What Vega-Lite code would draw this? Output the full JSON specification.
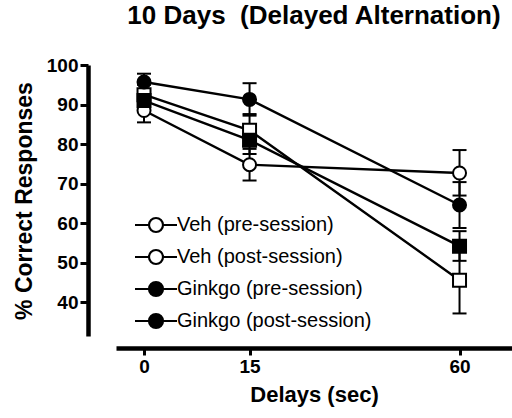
{
  "$schema": "https://vega.github.io/schema/vega-lite/v6.json",
  "width": 396,
  "height": 271,
  "autosize": {"type": "none"},
  "padding": {"left": 116, "top": 65, "right": 0, "bottom": 82},
  "background": "white",
  "title": {"text": "10 Days\u00a0 (Delayed Alternation)", "font": "Liberation Sans", "fontSize": 26, "fontWeight": "bold", "color": "black", "anchor": "middle", "offset": 27},
  "config": {
    "view": {"stroke": null},
    "font": "Liberation Sans",
    "axis": {"grid": false, "domainColor": "black", "tickColor": "black", "labelColor": "black", "titleColor": "black", "labelFont": "Liberation Sans", "titleFont": "Liberation Sans", "labelFontWeight": "bold", "titleFontWeight": "bold"},
    "axisX": {"offset": 12, "domainWidth": 4.5, "tickWidth": 3, "tickSize": 7, "labelFontSize": 19, "labelPadding": 2, "titleFontSize": 22, "titlePadding": 8, "labelFlush": false},
    "axisY": {"offset": 28, "domainWidth": 4.5, "tickWidth": 3, "tickSize": 8, "labelFontSize": 19, "labelPadding": 2, "titleFontSize": 23, "titlePadding": 10}
  },
  "data": {"values": [
    {"group": "Veh (pre-session)", "delay": 0, "mean": 88.5, "lo": 85.5, "hi": 91.5},
    {"group": "Veh (pre-session)", "delay": 15, "mean": 74.8, "lo": 70.8, "hi": 78.8},
    {"group": "Veh (pre-session)", "delay": 60, "mean": 72.7, "lo": 67.0, "hi": 78.5},
    {"group": "Veh (post-session)", "delay": 0, "mean": 92.5, "lo": 90.0, "hi": 95.0},
    {"group": "Veh (post-session)", "delay": 15, "mean": 83.5, "lo": 79.5, "hi": 87.6},
    {"group": "Veh (post-session)", "delay": 60, "mean": 45.6, "lo": 37.2, "hi": 54.0},
    {"group": "Ginkgo (pre-session)", "delay": 0, "mean": 95.7, "lo": 93.3, "hi": 97.8},
    {"group": "Ginkgo (pre-session)", "delay": 15, "mean": 91.3, "lo": 87.2, "hi": 95.4},
    {"group": "Ginkgo (pre-session)", "delay": 60, "mean": 64.6, "lo": 58.8, "hi": 70.4},
    {"group": "Ginkgo (post-session)", "delay": 0, "mean": 91.0, "lo": 88.5, "hi": 93.5},
    {"group": "Ginkgo (post-session)", "delay": 15, "mean": 81.0, "lo": 77.5, "hi": 84.3},
    {"group": "Ginkgo (post-session)", "delay": 60, "mean": 54.2, "lo": 50.5, "hi": 58.0}
  ]},
  "encoding": {
    "x": {"field": "delay", "type": "quantitative", "title": "Delays (sec)",
          "axis": {"values": [0, 15, 60]},
          "scale": {"type": "pow", "exponent": 0.79, "domain": [-2.8, 72.9], "nice": false, "zero": false}}
  },
  "layer": [
    {
      "mark": {"type": "line", "color": "black", "strokeWidth": 2.4},
      "encoding": {
        "y": {"field": "mean", "type": "quantitative", "title": "% Correct Responses", "axis": {"values": [40, 50, 60, 70, 80, 90, 100]}, "scale": {"domain": [31.5, 100], "nice": false, "zero": false}},
        "detail": {"field": "group"}
      }
    },
    {
      "mark": {"type": "rule", "color": "black", "strokeWidth": 2},
      "encoding": {
        "y": {"field": "lo", "type": "quantitative", "title": "% Correct Responses", "axis": {"values": [40, 50, 60, 70, 80, 90, 100]}},
        "y2": {"field": "hi"}
      }
    },
    {
      "mark": {"type": "tick", "orient": "horizontal", "color": "black", "size": 14, "thickness": 2, "opacity": 1},
      "encoding": {"y": {"field": "lo", "type": "quantitative", "title": "% Correct Responses", "axis": {"values": [40, 50, 60, 70, 80, 90, 100]}}}
    },
    {
      "mark": {"type": "tick", "orient": "horizontal", "color": "black", "size": 14, "thickness": 2, "opacity": 1},
      "encoding": {"y": {"field": "hi", "type": "quantitative", "title": "% Correct Responses", "axis": {"values": [40, 50, 60, 70, 80, 90, 100]}}}
    },
    {
      "mark": {"type": "point", "filled": true, "stroke": "black", "strokeWidth": 2, "size": 169, "opacity": 1},
      "encoding": {
        "y": {"field": "mean", "type": "quantitative", "title": "% Correct Responses", "axis": {"values": [40, 50, 60, 70, 80, 90, 100]}},
        "shape": {"field": "group", "type": "nominal",
          "scale": {"domain": ["Veh (pre-session)", "Ginkgo (pre-session)", "Veh (post-session)", "Ginkgo (post-session)"], "range": ["circle", "circle", "square", "square"]},
          "legend": null},
        "fill": {"field": "group", "type": "nominal",
          "scale": {"domain": ["Veh (pre-session)", "Veh (post-session)", "Ginkgo (pre-session)", "Ginkgo (post-session)"], "range": ["white", "white", "black", "black"]},
          "legend": {"orient": "none", "legendX": 30, "legendY": 150, "title": null, "padding": 0, "labelFont": "Liberation Sans", "labelFontSize": 20, "labelColor": "black", "labelLimit": 400,
            "symbolType": "M-3,0H-1M1,0H3M-1,0A1,1,0,1,1,1,0A1,1,0,1,1,-1,0Z",
            "symbolStrokeColor": "black", "symbolStrokeWidth": 2.2, "symbolSize": 196, "rowPadding": 8, "labelOffset": 11,
            "encode": {"symbols": {
              "stroke": {"value": "black"},
              "strokeWidth": {"value": 2.2},
              "opacity": {"value": 1}}}}}
      }
    }
  ]
}
